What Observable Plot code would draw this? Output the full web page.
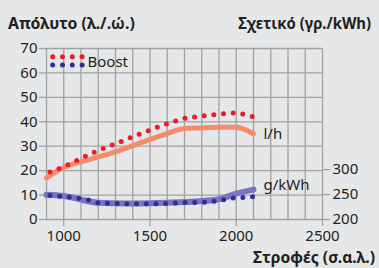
<!DOCTYPE html>
<html>
<head>
<meta charset="utf-8">
<script src="https://cdn.jsdelivr.net/npm/d3@7"></script>
<script src="https://cdn.jsdelivr.net/npm/@observablehq/plot@0.6"></script>
<style>
  html, body { margin: 0; padding: 0; background: #e6e7e9; }
  #chart { width: 379px; height: 268px; position: relative; overflow: hidden; }
  svg text { font-family: "Noto Sans", sans-serif; }
</style>
</head>
<body>
<div id="chart"></div>
<script>
// ---- data (rpm on x) ----
const rpmStd  = [900, 1000, 1100, 1200, 1300, 1400, 1500, 1600, 1700, 1800, 1900, 2000, 2050, 2100];
const lhStd   = [17.0, 21.3, 23.6, 25.6, 27.7, 30.2, 32.8, 35.2, 37.3, 37.5, 37.8, 37.8, 36.8, 35.1];

const rpmBoost = [920, 1000, 1100, 1200, 1300, 1400, 1500, 1600, 1700, 1800, 1900, 2000, 2050, 2100];
const lhBoost  = [19.4, 21.6, 25.0, 28.2, 31.0, 33.9, 36.6, 39.2, 41.4, 42.3, 43.1, 43.6, 43.0, 42.0];

const rpmGStd = [900, 1000, 1050, 1100, 1150, 1200, 1300, 1400, 1500, 1600, 1700, 1800, 1900, 2000, 2100];
const gStd    = [249.5, 247, 244, 240, 236, 233.5, 232.5, 232, 232.5, 233.5, 235, 237, 240.5, 252, 260];

const rpmGBoost = [920, 1000, 1100, 1150, 1200, 1300, 1400, 1500, 1600, 1700, 1800, 1880, 1935, 1990, 2050, 2100];
const gBoost    = [248, 246, 242, 238.5, 233.5, 232, 231.5, 231.5, 232, 234, 234.5, 237, 240, 243.5, 244.5, 246];

const xTicks = [1000, 1500, 2000, 2500];
const leftTicks = [0, 10, 20, 30, 40, 50, 60, 70];
const rightTicks = [200, 250, 300];

const leftTitle = "Απόλυτο (λ./.ώ.)";
const rightTitle = "Σχετικό (γρ./kWh)";
const xTitle = "Στροφές (σ.α.λ.)";
const legendLabel = "Boost";

// secondary axis mapping g/kWh -> left units
const g2y = v => (v - 200) / 4.9;

const stdLH = rpmStd.map((r, i) => ({rpm: r, v: lhStd[i]}));
const boostLH = rpmBoost.map((r, i) => ({rpm: r, v: lhBoost[i]}));
const stdG = rpmGStd.map((r, i) => ({rpm: r, v: g2y(gStd[i])}));
const boostG = rpmGBoost.map((r, i) => ({rpm: r, v: g2y(gBoost[i])}));

const C_ORANGE = "#f68a6c", C_RED = "#ed1c24", C_LAV = "#7a74c2", C_NAVY = "#2e3192";
const GRID = "#a2a2a2", INK = "#231f20";

const plot = Plot.plot({
  width: 379, height: 268,
  marginLeft: 46, marginRight: 57, marginTop: 48, marginBottom: 49,
  style: {background: "transparent", fontFamily: "Noto Sans", fontSize: "15px", color: INK},
  x: {domain: [900, 2500]},
  y: {domain: [0, 70]},
  marks: [
    Plot.gridX({ticks: d3.range(900, 2501, 100), stroke: GRID, strokeOpacity: 1, strokeWidth: 1.3}),
    Plot.gridY({ticks: leftTicks, stroke: GRID, strokeOpacity: 1, strokeWidth: 1.3}),
    Plot.axisX({ticks: xTicks, tickFormat: d => String(d), tickSize: 7, tickPadding: 4, label: null, stroke: GRID, strokeWidth: 1.3, fill: INK}),
    Plot.axisY({ticks: leftTicks, tickFormat: d => String(d), anchor: "left", tickSize: 7, tickPadding: 2, label: null, stroke: GRID, strokeWidth: 1.3, fill: INK}),
    Plot.axisY({ticks: rightTicks.map(g2y), anchor: "right", tickSize: 7, tickPadding: 3, label: null,
      tickFormat: d => String(Math.round(d * 4.9 + 200)), stroke: GRID, strokeWidth: 1.3, fill: INK}),
    Plot.line(stdLH, {x: "rpm", y: "v", stroke: C_ORANGE, strokeWidth: 5, curve: "monotone-x"}),
    Plot.line(stdG, {x: "rpm", y: "v", stroke: C_LAV, strokeWidth: 6, curve: "monotone-x"}),
    Plot.line(boostLH, {x: "rpm", y: "v", stroke: C_RED, strokeWidth: 5, strokeDasharray: "0 9.7", strokeLinecap: "round", curve: "monotone-x"}),
    Plot.line(boostG, {x: "rpm", y: "v", stroke: C_NAVY, strokeWidth: 5, strokeDasharray: "0 9.7", strokeLinecap: "round", curve: "monotone-x"}),
    Plot.text(stdLH, Plot.selectLast({x: "rpm", y: "v", text: () => "l/h", dx: 10, textAnchor: "start", fill: INK, fontSize: 15})),
    Plot.text(stdG, Plot.selectLast({x: "rpm", y: "v", text: () => "g/kWh", dx: 10, dy: -4, textAnchor: "start", fill: INK, fontSize: 15}))
  ]
});

document.getElementById("chart").appendChild(plot);

const svg = d3.select(plot);
// titles, horizontally condensed to match the reference widths
function title(str, x, y, anchor, width) {
  const g = svg.append("g").attr("transform", `translate(${x},${y})`);
  const t = g.append("text").attr("font-weight", "bold").attr("font-size", 16)
    .attr("text-anchor", anchor).attr("fill", INK).text(str);
  const w = t.node().getComputedTextLength();
  if (w > 0) t.attr("transform", `scale(${Math.min(1, width / w)},1)`);
}
title(leftTitle, 8, 29, "start", 127);
title(rightTitle, 371, 29, "end", 133);
title(xTitle, 375, 263, "end", 122);

// legend
const lg = svg.append("g");
[0, 1, 2, 3].forEach(i => {
  lg.append("circle").attr("cx", 52.7 + i * 9.8).attr("cy", 56.7).attr("r", 2.5).attr("fill", C_RED);
  lg.append("circle").attr("cx", 52.7 + i * 9.8).attr("cy", 65).attr("r", 2.5).attr("fill", C_NAVY);
});
lg.append("text").attr("x", 87.5).attr("y", 61.7).attr("dy", "0.35em").attr("font-size", 15)
  .attr("text-anchor", "start").attr("fill", INK).text(legendLabel);
</script>
</body>
</html>
